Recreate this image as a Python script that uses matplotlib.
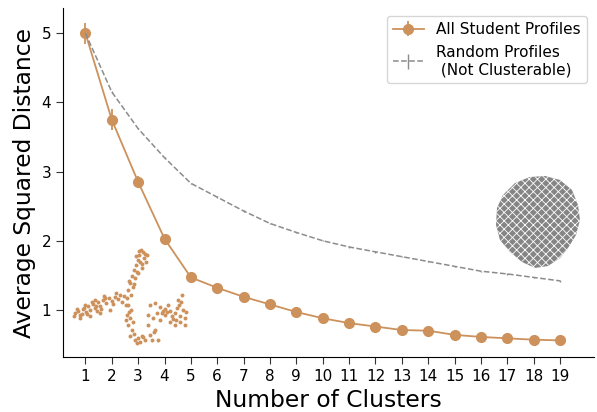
import numpy as np
import matplotlib
matplotlib.use("Agg")
import matplotlib.pyplot as plt
from matplotlib.patches import Polygon

# elbow curves
clusters = list(range(1, 20))
student = [5.0, 3.75, 2.85, 2.03, 1.47, 1.32, 1.19, 1.08, 0.97, 0.88,
           0.81, 0.76, 0.71, 0.70, 0.64, 0.61, 0.59, 0.57, 0.56]
student_err = [0.15, 0.15, 0.08, 0.04, 0.03, 0.03, 0.02, 0.02, 0.02, 0.02,
               0.02, 0.02, 0.02, 0.02, 0.02, 0.02, 0.02, 0.02, 0.02]
random_prof = [5.0, 4.15, 3.62, 3.2, 2.83, 2.63, 2.43, 2.25, 2.12, 2.0,
               1.91, 1.84, 1.77, 1.70, 1.63, 1.56, 1.52, 1.47, 1.42]
random_err = [0.01] * 19

# inset sketches (figure pixel coords)
blob_x = [75, 78, 80, 83, 86, 88, 90, 93, 95, 98, 100, 103, 106, 109, 112, 115, 118, 80, 90, 100, 110, 85, 95,
          77, 82, 92, 97, 104, 113, 120, 122, 87, 96, 105, 74, 84, 101, 116,
          127, 128, 130, 132, 134, 136, 138, 139, 141, 143, 140, 133, 126, 135, 144, 142, 131, 137, 145, 146, 129,
          136, 139, 142, 138, 134, 147, 124,
          128, 129, 130, 128, 132, 130, 135, 140, 145, 133, 126, 131, 134, 138, 143, 127, 137, 142,
          150, 155, 160, 165, 170, 175, 180, 185, 183, 178, 182, 165, 170, 175, 160, 155, 150, 152, 158, 148, 148, 185,
          162, 168, 173, 177, 180, 157, 153, 186, 179, 172, 181, 176, 167, 163, 154]
blob_y = [313, 311, 315, 309, 312, 306, 310, 304, 308, 302, 306, 300, 303, 298, 301, 297, 299, 318, 316, 313, 310, 305, 300,
          309, 314, 302, 311, 296, 304, 295, 302, 314, 306, 298, 316, 308, 309, 293,
          298, 290, 283, 276, 270, 265, 260, 255, 250, 252, 262, 287, 305, 278, 258, 268, 295, 272, 254, 262, 281,
          256, 251, 264, 273, 284, 255, 296,
          305, 312, 318, 325, 330, 336, 340, 342, 340, 322, 320, 310, 334, 338, 337, 315, 343, 336,
          305, 303, 307, 309, 311, 313, 316, 318, 310, 300, 295, 315, 322, 325, 320, 330, 335, 340, 340, 325, 315, 325,
          313, 305, 319, 308, 322, 313, 318, 312, 305, 316, 302, 320, 312, 311, 332]
disk_x = [515, 530, 545, 560, 572, 578, 580, 576, 568, 560, 548, 535, 522, 510, 500, 496, 497, 503]
disk_y = [183, 177, 176, 180, 190, 205, 220, 235, 248, 258, 266, 268, 262, 252, 240, 225, 208, 195]

orange = "#cd915c"
grey = "#8c8c8c"

plt.rcParams["hatch.linewidth"] = 0.6

fig = plt.figure(figsize=(5.97, 4.12), dpi=100)
ax = fig.add_axes([0.1055, 0.1335, 0.89, 0.8465])

ax.errorbar(clusters, student, yerr=student_err, color=orange, marker="o",
            markersize=7, linewidth=1.3, elinewidth=1.3, label="All Student Profiles")
ax.errorbar(clusters, random_prof, yerr=random_err, color=grey, linestyle="--",
            linewidth=1.1, elinewidth=1.0, label="Random Profiles\n (Not Clusterable)")

ax.set_xlim(0.15, 20.3)
ax.set_ylim(0.32, 5.36)
ax.set_xticks(clusters)
ax.set_yticks([1, 2, 3, 4, 5])
ax.tick_params(labelsize=11, length=5, color="#333333")
ax.spines["top"].set_visible(False)
ax.spines["right"].set_visible(False)
ax.set_xlabel("Number of Clusters", fontsize=16.8)
ax.set_ylabel("Average Squared Distance", fontsize=16.8)
ax.legend(loc="upper right", fontsize=11, handlelength=2.0)

# overlay for the little embeddings
ov = fig.add_axes([0, 0, 1, 1], zorder=-1)
ov.set_xlim(0, 597)
ov.set_ylim(412, 0)
ov.axis("off")
ov.scatter(blob_x, blob_y, s=8, color=orange, marker="o", linewidths=0)
ov.add_patch(Polygon(np.column_stack([disk_x, disk_y]), closed=True,
                     facecolor="#858585", edgecolor="white", linewidth=0, hatch="xxxx"))
ax.patch.set_alpha(0)

fig.savefig("out.png", dpi=100)
